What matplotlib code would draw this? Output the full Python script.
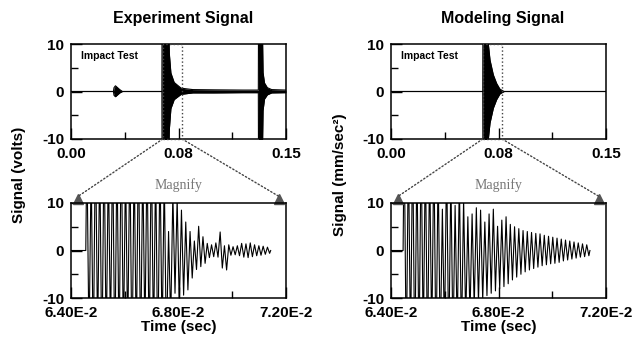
import numpy as np
import matplotlib
matplotlib.use('Agg')
import matplotlib.pyplot as plt
from matplotlib.patches import Rectangle, ConnectionPatch

plt.rcParams['font.family'] = ['Liberation Sans', 'DejaVu Sans']
plt.rcParams['font.weight'] = 'bold'
plt.rcParams['axes.unicode_minus'] = False

## Data
titles = ['Experiment Signal', 'Modeling Signal']
ylabels = ['Signal (volts)', 'Signal (mm/sec\u00b2)']
top_xticks = [0.0, 0.075, 0.15]
top_xlabels = ['0.00', '0.08', '0.15']
bot_xticks = [0.064, 0.068, 0.072]
bot_xlabels = ['6.40E-2', '6.80E-2', '7.20E-2']
yticks = [-10, 0, 10]
# zoom window marked in the overview plots
zoom_lo = 0.064
zoom_hi = 0.0775

# overview envelopes (upper / lower) of the full record
exp_env_t = [0.0, 0.0296, 0.0300, 0.0310, 0.0325, 0.0340, 0.0359, 0.0634, 0.0635, 0.0683, 0.0686,
             0.0697, 0.0720, 0.0768, 0.0850, 0.1000, 0.1200, 0.1307, 0.1308, 0.1336, 0.1340,
             0.1350, 0.1370, 0.1400, 0.1500]
exp_env_hi = [0, 0, 0.8, 1.2, 0.8, 0.4, 0, 0, 12, 12, 8, 3.9, 1.9, 0.7, 0.4, 0.35, 0.3, 0.3, 12, 12,
              4, 1.8, 0.8, 0.4, 0.3]
exp_env_lo = [0, 0, -0.8, -1.1, -0.7, -0.3, 0, 0, -12, -12, -8, -3.6, -1.7, -0.6, -0.3, -0.3, -0.25,
              -0.25, -12, -12, -4, -1.6, -0.7, -0.3, -0.25]
mod_env_t = [0.0, 0.0640, 0.0641, 0.0672, 0.0691, 0.0714, 0.0737, 0.0760, 0.0780, 0.0790, 0.1500]
mod_env_hi = [0, 0, 12, 12, 6.6, 3.5, 1.7, 0.5, 0.15, 0, 0]
mod_env_lo = [0, 0, -12, -12, -6.6, -3.5, -1.7, -0.5, -0.15, 0, 0]

# magnified records: start time, cycle period, peak heights of each cycle
exp_t0 = 0.06455
exp_period = 0.00016
exp_pos = [22, 18, 25, 20, 24, 19, 23, 21, 25, 18, 22, 20, 24, 19, 21, 23, 18, 20, 16,
           4, 12, 11, 8.5, 6, 4, 2, 5.1, 2.9, 1.5, 1.2, 1.6, 3.9, 1.0, 1.2, 0.8, 1.0,
           1.5, 1.4, 1.6, 1.2, 1.0, 0.9, 0.7]
exp_neg = [20, 23, 19, 25, 21, 18, 24, 22, 20, 19, 25, 21, 23, 18, 22, 20, 24, 19, 21,
           15, 9, 12, 9.4, 8.3, 5.8, 4, 3.4, 2.7, 1.5, 1.3, 1.4, 3.7, 4.1, 1.0, 0.9, 1.1,
           1.4, 1.5, 1.3, 1.1, 1.0, 0.8, 0.6]
mod_t0 = 0.06445
mod_period = 0.000158
mod_pos = [25, 22, 24, 20, 23, 21, 19, 22, 18, 8.7, 20, 16, 9.5, 15,
           11, 7.1, 7.7, 9, 8.5, 6, 7.7, 8.7, 5.1, 6.4, 7.1, 5.5, 5, 4.6, 4.2, 4, 3.8,
           3.6, 3.5, 3.2, 3.0, 2.8, 2.6, 2.4, 2.2, 2.0, 1.8, 1.6, 1.4, 1.2]
mod_neg = [24, 21, 25, 22, 20, 23, 19, 24, 21, 18, 22, 20, 17, 19, 15, 14, 12, 11, 10.5,
           9.5, 9, 8.5, 8, 7.6, 7, 6.2, 5.6, 5, 4.5, 4.1, 3.8, 3.5, 3.2, 3.0, 2.8, 2.7,
           2.5, 2.2, 2.0, 1.8, 1.6, 1.4, 1.3, 1.1]


def build_wave(t0, period, pos, neg, t_start):
    # zero lead-in, then alternate positive / negative peaks per cycle
    n = len(pos)
    c = np.arange(n)
    t = np.empty(2 * n)
    y = np.empty(2 * n)
    t[0::2] = t0 + (c + 0.25) * period
    t[1::2] = t0 + (c + 0.75) * period
    y[0::2] = pos
    y[1::2] = -np.asarray(neg)
    t = np.concatenate([[t_start, t0], t, [t0 + n * period]])
    y = np.concatenate([[0, 0], y, [0]])
    return t, y


waves = [build_wave(exp_t0, exp_period, exp_pos, exp_neg, bot_xticks[0]),
         build_wave(mod_t0, mod_period, mod_pos, mod_neg, bot_xticks[0])]
envs = [(exp_env_t, exp_env_hi, exp_env_lo), (mod_env_t, mod_env_hi, mod_env_lo)]

W, H = 640, 347
fig = plt.figure(figsize=(6.4, 3.47), dpi=100)
lefts = [71, 391]
ylab_x = [19, 340]
grey = '#555555'


def style(ax):
    ax.set_ylim(-10, 10)
    ax.set_yticks(yticks)
    ax.set_yticks([-5, 5], minor=True)
    ax.tick_params(which='both', direction='in', top=False, right=False, width=1,
                   labelsize=11)
    ax.tick_params(axis='y', pad=5)
    ax.tick_params(axis='x', pad=6)
    ax.tick_params(which='major', length=8)
    ax.tick_params(which='minor', length=5)
    for s in ax.spines.values():
        s.set_linewidth(1.1)


for i in range(2):
    x0 = lefts[i] / W
    w = 215 / W
    ax_top = fig.add_axes([x0, 1 - 139 / H, w, 95 / H])
    ax_bot = fig.add_axes([x0, 1 - 298 / H, w, 95 / H])

    # overview
    t_env, hi, lo = envs[i]
    ax_top.fill_between(t_env, lo, hi, color='k', lw=0)
    ax_top.plot(t_env, hi, color='k', lw=0.8)
    ax_top.plot(t_env, lo, color='k', lw=0.8)
    ax_top.set_xlim(top_xticks[0], top_xticks[-1])
    ax_top.set_xticks(top_xticks)
    ax_top.set_xticklabels(top_xlabels)
    ax_top.set_xticks([0.0375, 0.1125], minor=True)
    style(ax_top)
    ax_top.add_patch(Rectangle((zoom_lo, -10), zoom_hi - zoom_lo, 20, fill=False,
                               ls=':', lw=1.0, ec='#444444', zorder=5, clip_on=False))
    ax_top.text(0.045, 0.87, 'Impact Test', transform=ax_top.transAxes, fontsize=7.5,
                va='center', ha='left')
    ax_top.text(0.52, 1.27, titles[i], transform=ax_top.transAxes, fontsize=11.5,
                ha='center', va='center')

    # magnified view
    t, y = waves[i]
    ax_bot.plot(t, y, color='k', lw=0.8)
    ax_bot.set_xlim(bot_xticks[0], bot_xticks[-1])
    ax_bot.set_xticks(bot_xticks)
    ax_bot.set_xticklabels(bot_xlabels)
    ax_bot.set_xticks([0.066, 0.070], minor=True)
    style(ax_bot)
    ax_bot.text(0.5, -0.31, 'Time (sec)', transform=ax_bot.transAxes, fontsize=11,
                ha='center', va='center')
    ax_bot.text(0.5, 1.15, 'Magnify', transform=ax_bot.transAxes, fontsize=10,
                ha='center', va='baseline', color='#777777', family='Liberation Serif',
                weight='normal')

    # dotted connectors with grey arrowheads
    for xa, xb in [(zoom_lo, 0.033), (zoom_hi, 0.967)]:
        con = ConnectionPatch(xyA=(xa, -10), coordsA=ax_top.transData,
                              xyB=(xb, 1.07), coordsB=ax_bot.transAxes,
                              ls=':', lw=1.0, color='#444444')
        fig.add_artist(con)
        ax_bot.plot([xb], [1.045], marker='^', ms=7.5, color=grey,
                    transform=ax_bot.transAxes, clip_on=False)

    fig.text(ylab_x[i] / W, 1 - 175 / H, ylabels[i], rotation=90, fontsize=11,
             ha='center', va='center')

plt.savefig('out.png', dpi=100)
